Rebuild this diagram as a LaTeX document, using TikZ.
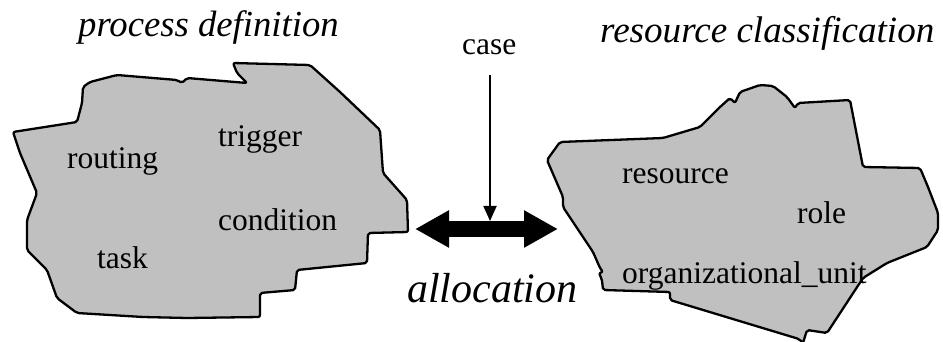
\documentclass[tikz,border=0pt]{standalone}
\usepackage{fontspec}
\setmainfont{Liberation Serif}[ItalicFont={Liberation Serif Italic}, BoldFont={Liberation Serif Bold}]
\usetikzlibrary{arrows.meta}
\definecolor{blobgray}{RGB}{192,192,192}
\tikzset{
  blob/.style={draw=black, fill=blobgray, line width=2.3pt, line join=round, rounded corners=2pt},
  lbl/.style={anchor=base west, inner sep=0pt, font=\fontsize{31.5}{36}\selectfont},
  ttl/.style={anchor=base west, inner sep=0pt, font=\fontsize{36.7}{42}\selectfont\itshape},
}
\begin{document}
\begin{tikzpicture}[x=1pt,y=-1pt]
\useasboundingbox (0,0) rectangle (943,342);
% left blob: process definition
\draw[blob] (13,132) -- (77,122) -- (82,103) -- (83,87) -- (90,82) -- (117,75) -- (177,80) -- (182,83) -- (187,78)
  -- (247,83) -- (237,73) -- (233,63) -- (310,65) -- (340,92) -- (380,130) -- (383,173) -- (407,200)
  -- (408,232) -- (368,233) -- (367,263) -- (297,270) -- (295,290) -- (260,293) -- (260,317)
  -- (187,318) -- (143,317) -- (77,313) -- (57,298) -- (47,270) -- (27,250) -- (27,220)
  -- (37,193) -- (20,153) -- cycle;
% right blob: resource classification
\draw[blob] (560,142) -- (663,138) -- (700,127) -- (720,107) -- (730,98) -- (735,103) -- (740,92)
  -- (760,85) -- (773,86) -- (787,97) -- (795,108) -- (798,103) -- (850,100) -- (863,167)
  -- (920,168) -- (928,187) -- (938,213) -- (938,230) -- (927,247) -- (887,263) -- (863,278)
  -- (827,333) -- (807,330) -- (803,343) -- (799,339) -- (670,300) -- (670,292) -- (603,290)
  -- (602,280) -- (599,273) -- (603,272) -- (600,268) -- (593,252) -- (563,207) -- (563,197)
  -- (547,160) -- cycle;
% texts
\node[ttl] (pd) at (78,37) {process definition};
\node[ttl, font=\fontsize{37.1}{42}\selectfont\itshape] (rc) at (600,43) {resource classification};
\node[lbl] (case) at (462,55) {case};
\node[anchor=base west, inner sep=0pt, font=\fontsize{42}{48}\selectfont\itshape] (alloc) at (407,302) {allocation};
\node[lbl] (trigger) at (218,147) {trigger};
\node[lbl] (routing) at (67,169) {routing};
\node[lbl] (condition) at (218,230) {condition};
\node[lbl] (task) at (97,268) {task};
\node[lbl] (resource) at (622,184) {resource};
\node[lbl] (role) at (797,223) {role};
\node[lbl] (orgunit) at (622,283) {organizational\_unit};
% arrows
\coordinate (caseTop) at (490,75);
\coordinate (caseTip) at (490,221);
\coordinate (alL) at (415,229);
\coordinate (alR) at (558,229);
\draw[line width=16pt, {Triangle[length=34pt,width=35pt]}-{Triangle[length=34pt,width=35pt]}] (alL) -- (alR);
\draw[line width=1.8pt, -{Triangle[length=15pt,width=13pt]}] (caseTop) -- (caseTip);
\end{tikzpicture}
\end{document}
